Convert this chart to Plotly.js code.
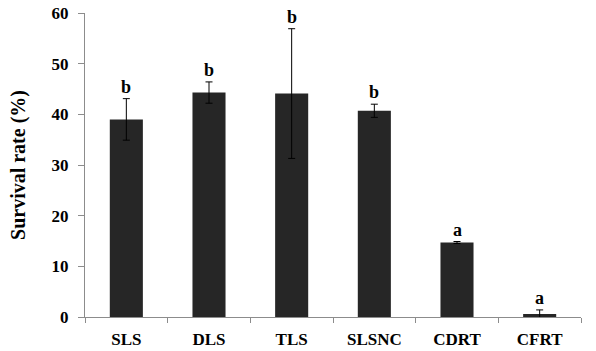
<!DOCTYPE html>
<html>
<head>
<meta charset="utf-8">
<script src="https://cdn.plot.ly/plotly-3.0.1.min.js"></script>
<style>html,body{margin:0;padding:0;background:#fff;}#chart{width:596px;height:351px;}</style>
</head>
<body>
<div id="chart"></div>
<script>
var categories = ["SLS", "DLS", "TLS", "SLSNC", "CDRT", "CFRT"];
var survival = [39.0, 44.3, 44.1, 40.7, 14.7, 0.6];
var errors = [4.1, 2.1, 12.8, 1.3, 0.2, 0.8];
var letters = ["b", "b", "b", "b", "a", "a"];
var yTicks = [0, 10, 20, 30, 40, 50, 60];

var family = "Liberation Serif, Times New Roman, serif";

var trace = {
  type: "bar",
  x: categories,
  y: survival,
  width: 0.4,
  marker: {color: "#262626", line: {width: 0}},
  error_y: {type: "data", array: errors, visible: true, color: "#000", thickness: 1, width: 3.5}
};

var annotations = categories.map(function (c, i) {
  return {
    x: c, y: survival[i] + errors[i], xref: "x", yref: "y",
    text: "<b>" + letters[i] + "</b>", showarrow: false,
    yanchor: "bottom", xanchor: "center", yshift: 0,
    font: {family: family, size: 18, color: "#000"}
  };
});

var layout = {
  width: 596, height: 351,
  margin: {l: 85, r: 15, t: 13, b: 34},
  paper_bgcolor: "#fff", plot_bgcolor: "#fff",
  showlegend: false,
  font: {family: family, size: 17, color: "#000"},
  xaxis: {
    type: "category",
    showline: true, linecolor: "#8c8c8c", linewidth: 1,
    ticks: "outside", ticklen: 5, tickcolor: "#8c8c8c", tickson: "boundaries",
    showgrid: false, zeroline: false,
    tickfont: {family: family, size: 17, color: "#000", weight: "bold"},
    ticklabelstandoff: 7
  },
  yaxis: {
    range: [0, 60], tickvals: yTicks, ticktext: yTicks.map(String),
    showline: true, linecolor: "#8c8c8c", linewidth: 1,
    ticks: "outside", ticklen: 6, tickcolor: "#8c8c8c",
    showgrid: false, zeroline: false,
    tickfont: {family: family, size: 17, color: "#000", weight: "bold"},
    ticklabelstandoff: 6,
    title: {text: "<b>Survival rate (%)</b>", font: {family: family, size: 20, color: "#000"}, standoff: 20}
  },
  annotations: annotations
};

Plotly.newPlot("chart", [trace], layout, {displayModeBar: false, staticPlot: true});
</script>
</body>
</html>
